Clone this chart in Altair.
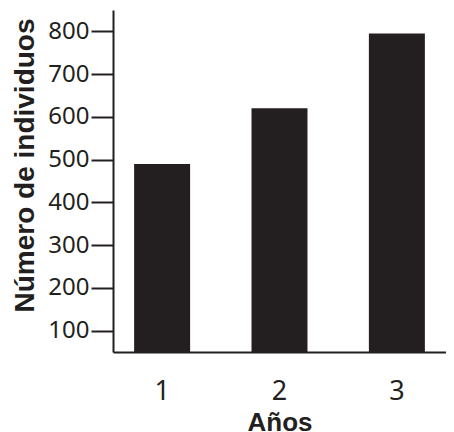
import altair as alt
import pandas as pd

years = ["1", "2", "3"]
counts = [490, 620, 795]
y_ticks = [100, 200, 300, 400, 500, 600, 700, 800]
y_min, y_max = 50, 850

df = pd.DataFrame({"year": years, "count": counts})

ink = "#231f20"

chart = alt.Chart(df).mark_bar(color=ink).encode(
    x=alt.X("year:O",
            scale=alt.Scale(paddingInner=0.523, paddingOuter=0.18),
            axis=alt.Axis(title="Años", labelAngle=0, tickSize=0, labelPadding=26,
                          labelFont="Noto Sans", labelFontSize=27, labelColor=ink,
                          titleFont="Liberation Sans", titleFontSize=26, titleFontWeight="bold",
                          titleColor=ink, titlePadding=5,
                          domainColor=ink, domainWidth=2)),
    y=alt.Y("count:Q",
            scale=alt.Scale(domain=[y_min, y_max], nice=False, zero=False),
            axis=alt.Axis(title="Número de individuos", values=y_ticks, grid=False,
                          tickSize=22, tickWidth=2, tickColor=ink, labelPadding=2,
                          labelFont="Noto Sans", labelFontSize=24, labelColor=ink,
                          titleFont="Liberation Sans", titleFontSize=28, titleFontWeight="bold",
                          titleColor=ink, titleAngle=270, titleX=-80, titleY=155,
                          titleAlign="center", titleBaseline="alphabetic",
                          domainColor=ink, domainWidth=2)),
    y2=alt.datum(y_min),
).properties(
    width=333, height=342,
    autosize=alt.AutoSizeParams(type="none"),
    padding={"left": 105, "top": 2, "right": 0, "bottom": 80},
).configure_view(stroke=None)

chart.save("out.html", embed_options={"renderer": "svg", "actions": False})
